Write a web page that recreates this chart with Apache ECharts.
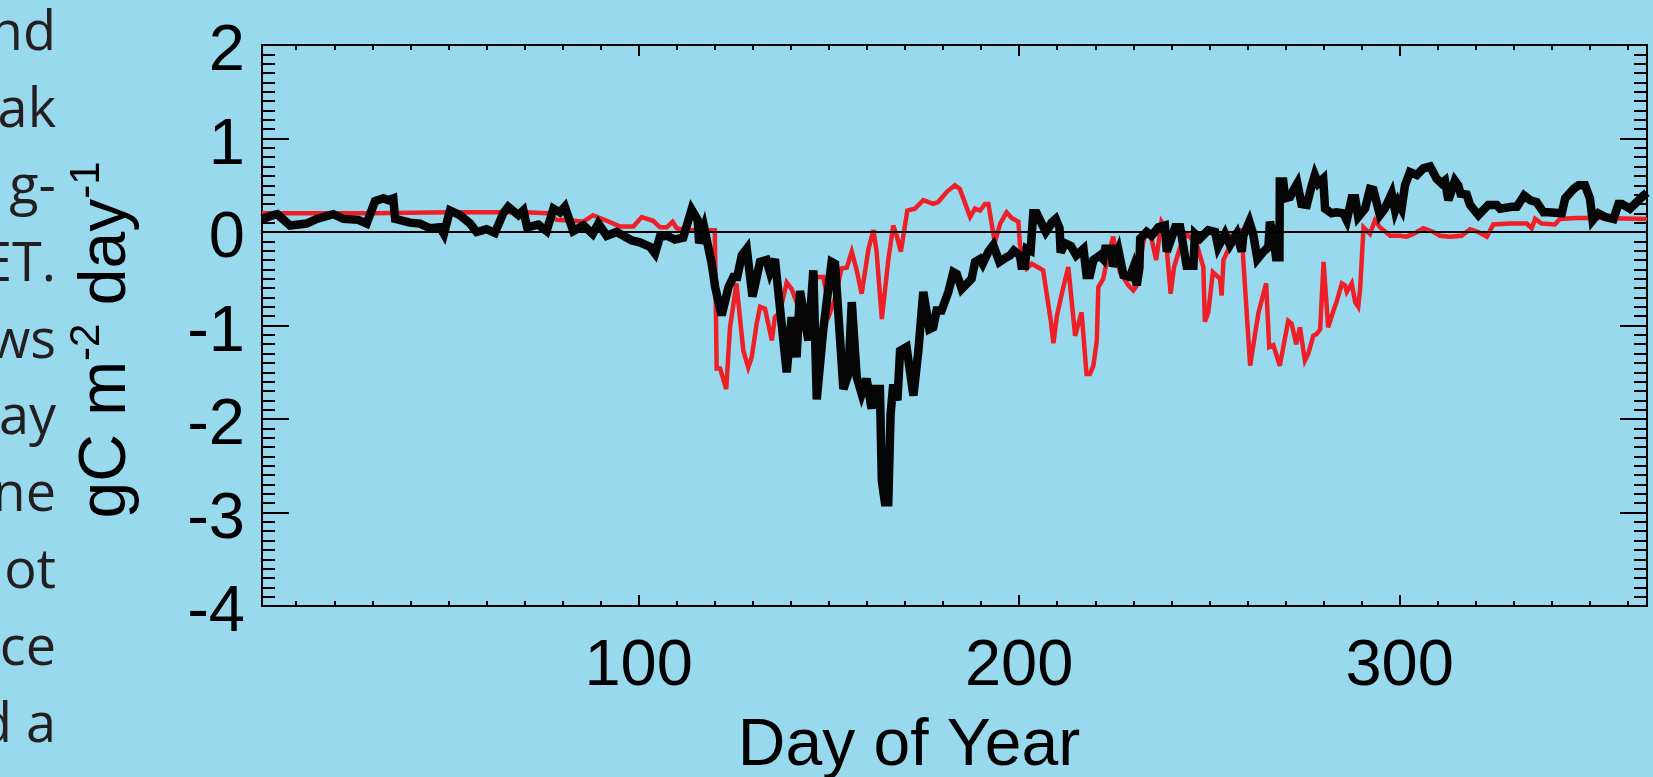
<!DOCTYPE html>
<html>
<head>
<meta charset="utf-8">
<script src="https://cdn.jsdelivr.net/npm/echarts@6/dist/echarts.min.js"></script>
<style>
html,body{margin:0;padding:0;background:#99d9ee;}
#chart{width:1653px;height:777px;}
</style>
</head>
<body>
<div id="chart"></div>
<script>
// ---- data ----
const blackDay = [1,4,5,8.4,12.7,15.4,19.7,22.4,26.3,28.5,30.7,32.9,34.2,35.5,36,39.9,42.5,45.2,47.8,48.8,50.4,53,55.7,57.4,60,62.2,64.4,65.7,68.4,69.7,70.7,73.6,75.8,77.6,79.3,80.6,82.8,85.5,87.9,89.4,91.6,94.2,98.2,100.3,103,104.3,105.6,107.4,109.5,111.7,113.9,115.5,115.9,117.2,119.2,120.1,121.8,123.6,124.9,125.9,127.1,128.4,129.9,131.9,133.6,134.5,135.8,138.9,140.2,141.5,142.4,144.6,145.9,146.8,148.5,150.7,151.6,153.8,155.1,156,157.3,158.6,159.9,161.2,161.7,163.4,163.9,164.7,165.6,166.2,166.9,168,168.7,170.4,172.2,173.5,174.8,176.4,177.4,178.3,179.6,181.4,182.7,183.6,184.9,187.5,188.4,189.7,190.4,191.9,193.2,194.8,196.7,197.6,198.6,200.2,200.6,201.5,202,203,203.7,204.6,207,207.7,208.5,209.6,210.6,210.9,212,213.6,215,216.9,217.7,218.6,219.5,221.2,222.1,222.6,224.3,224.6,226.1,227.4,229.1,230,230.9,231.6,231.8,233.5,234.8,236.6,238.3,238.8,241,242.3,244,245.8,246.2,247.5,249.7,251.5,252.3,254.1,255.4,257.2,258.5,258.9,260.5,261.5,262.6,264.2,265.5,265.9,266.8,267.5,268.4,268.5,269.4,269.9,271.2,272.1,273.1,274.2,275.6,276.9,277.7,278.6,279.9,280.4,282.1,283.4,285.2,286.1,287.4,288.3,289.1,290.9,292.2,293.1,294.8,296.1,297.9,298.8,299.6,300.5,301.4,302.7,304.5,306.2,308,309.7,311,311.9,312.8,314.5,315.4,316,317.6,318.5,320.7,323.3,325.5,326.4,329.5,330.8,332.7,334.3,336,337.8,339.1,342.6,343.5,345.7,347,348.7,350,350.7,352.2,354,356.2,357.5,358.4,360.5,362.3,364.1,365];
const blackVal = [0.14,0.18,0.19,0.07,0.09,0.14,0.19,0.14,0.13,0.09,0.33,0.36,0.34,0.36,0.14,0.10,0.09,0.04,0.05,-0.02,0.23,0.18,0.09,0.0,0.03,-0.01,0.2,0.27,0.18,0.23,0.05,0.08,0.01,0.25,0.21,0.27,0.01,0.07,-0.02,0.09,-0.04,0.0,-0.09,-0.11,-0.16,-0.23,-0.05,-0.04,-0.08,-0.06,0.24,0.13,-0.12,0.05,-0.34,-0.59,-0.89,-0.59,-0.48,-0.48,-0.25,-0.18,-0.69,-0.32,-0.30,-0.43,-0.29,-1.5,-0.91,-1.34,-0.63,-1.16,-0.41,-1.79,-1.05,-0.32,-0.34,-1.68,-1.52,-0.75,-1.55,-1.73,-1.57,-1.89,-1.68,-1.68,-2.66,-2.89,-2.89,-1.95,-1.63,-1.80,-1.27,-1.23,-1.75,-1.27,-0.64,-1.04,-1.02,-0.84,-0.84,-0.64,-0.43,-0.45,-0.61,-0.5,-0.32,-0.29,-0.34,-0.21,-0.14,-0.32,-0.27,-0.25,-0.20,-0.25,-0.36,-0.36,-0.18,-0.2,0.2,0.2,0,0.04,0.1,0.14,0.04,-0.22,-0.12,-0.15,-0.25,-0.18,-0.46,-0.46,-0.30,-0.25,-0.29,-0.18,-0.18,-0.37,-0.2,-0.46,-0.48,-0.38,-0.57,-0.38,-0.07,0,-0.04,0.05,0.07,-0.21,0.05,0.05,-0.36,-0.36,-0.02,-0.07,0.02,0,-0.16,-0.02,-0.14,-0.02,-0.21,-0.04,0.11,-0.02,-0.29,-0.21,-0.16,0.11,-0.04,-0.27,-0.27,0.54,0.54,0.36,0.375,0.45,0.52,0.30,0.29,0.5,0.61,0.52,0.57,0.25,0.2,0.21,0.20,0.125,0.36,0.36,0.16,0.25,0.46,0.45,0.18,0.25,0.41,0.23,0.32,0.25,0.5,0.64,0.61,0.68,0.70,0.57,0.52,0.55,0.34,0.55,0.5,0.41,0.40,0.29,0.18,0.29,0.29,0.25,0.27,0.27,0.39,0.34,0.32,0.21,0.21,0.2,0.36,0.46,0.5,0.5,0.36,0.125,0.2,0.16,0.14,0.30,0.30,0.25,0.32,0.39,0.42];
const redDay = [1,30,50,70,76,78.4,82.8,85.5,88,91.6,95,98.6,100.8,103.8,105.6,107.4,108.9,110,112.6,120,120.5,121.4,123,124,125.7,127.5,128.8,129.7,131,131.9,133.2,135,135.8,137.1,138.9,140.2,141.5,142.8,144.1,146.8,148.5,150.3,151.6,153.3,154.7,156,156.5,157.3,158.6,159.1,160.4,161.7,162.5,163.9,165.6,166.9,167.8,168.9,170.6,172.6,174.8,177.4,178.7,181,183.1,184.4,187.1,188.4,189.7,191,191.9,193.6,195,196.7,198,199.8,200.2,202,203.3,205.5,206.3,208.3,209,209.9,211.2,212.9,214.7,216.4,216.9,217.7,218.6,219.5,220.4,220.8,222.1,223,224.7,226.5,228.7,230,230.9,232.6,233.5,234.4,236,237.4,238.3,239.8,240.7,242.3,244,246.6,248.4,248.8,249.7,250.9,252.8,253.2,253.7,255,255.8,257.2,258.5,258.9,260.7,262,262.9,264.9,265.7,266.8,268.5,270.7,271.6,272.8,273.8,275.1,276,277.3,278.2,279.1,280,281.2,282.6,283.4,284.8,285.6,286.1,287.4,288.3,289.1,289.6,290.5,292.2,293.5,294.8,297.5,300.1,301.8,303.6,306.2,308.9,310.6,313.2,316.3,318.5,320.7,322.9,324.6,329,333.4,334.7,335.6,337.3,340.8,342.1,346.5,352.7,365];
const redVal = [0.2,0.2,0.21,0.21,0.2,0.13,0.12,0.11,0.18,0.12,0.06,0.06,0.16,0.12,0.05,0.05,0.11,0.04,0.02,0.02,-1.46,-1.46,-1.68,-1.02,-0.55,-1.27,-1.45,-1.34,-0.98,-0.8,-0.82,-1.16,-0.91,-0.86,-0.54,-0.61,-0.75,-1.05,-0.88,-0.48,-0.48,-0.86,-0.71,-0.39,-0.38,-0.21,-0.23,-0.41,-0.66,-0.66,-0.18,0.02,-0.2,-0.93,-0.3,0.07,-0.04,-0.21,0.23,0.25,0.34,0.3,0.32,0.43,0.5,0.46,0.16,0.25,0.23,0.30,0.30,-0.11,0.09,0.21,0.15,0.11,-0.14,-0.39,-0.34,-0.39,-0.41,-0.95,-1.19,-0.9,-0.66,-0.375,-1.11,-0.86,-0.86,-1.52,-1.52,-1.43,-1.16,-0.59,-0.5,-0.32,-0.05,-0.43,-0.57,-0.625,-0.57,-0.11,0.02,0,-0.3,0.11,0.05,-0.66,-0.375,-0.16,-0.02,-0.125,-0.375,-0.96,-0.86,-0.43,-0.5,-0.68,-0.30,-0.18,-0.04,0.02,0.02,-0.3,-1.43,-1.09,-0.86,-0.55,-1.23,-1.21,-1.43,-0.95,-0.98,-1.2,-1.02,-1.375,-1.3,-1.11,-1.09,-1.04,-0.32,-1.02,-0.84,-0.75,-0.55,-0.57,-0.64,-0.55,-0.75,-0.8,-0.61,0.05,-0.02,0.125,0.05,-0.04,-0.04,-0.05,-0.02,0.04,0,-0.04,-0.05,-0.04,0.03,0.0,-0.05,0.08,0.09,0.09,0.04,0.14,0.09,0.08,0.14,0.15,0.15,0.14];
const xLabelValues = [100, 200, 300];
const xMinorValues = [10,20,30,40,50,60,70,80,90,110,120,130,140,150,160,170,180,190,210,220,230,240,250,260,270,280,290,310,320,330,340,350,360];
const yMin = -4, yMax = 2, yStep = 1;
const xMin = 1, xMax = 365;
const sideText = ['nd','ak','g-','ET.','ws','ay','ne','ot','ce','d a'];

// ---- chart ----
const FONT = '"Liberation Sans", Arial, Helvetica, sans-serif';
const chart = echarts.init(document.getElementById('chart'), null, {renderer: 'canvas'});

const pair = (xs, ys) => xs.map((x, i) => [x, ys[i]]);

function xAx(pos, values, len, labels) {
  return {
    type: 'value', position: pos, min: xMin, max: xMax,
    axisLine: {show: true, onZero: false, lineStyle: {color: '#000', width: 2}},
    axisTick: {show: true, inside: true, length: len, customValues: values, lineStyle: {color: '#000', width: 2}},
    axisLabel: labels ? {show: true, customValues: values, fontSize: 65, color: '#000', fontFamily: FONT, margin: 29} : {show: false},
    splitLine: {show: false}, minorTick: {show: false}
  };
}
function yAx(pos, labels) {
  return {
    type: 'value', position: pos, min: yMin, max: yMax, interval: yStep,
    axisLine: {show: true, onZero: false, lineStyle: {color: '#000', width: 2}},
    axisTick: {show: true, inside: true, length: 27, lineStyle: {color: '#000', width: 2}},
    minorTick: {show: true, splitNumber: 10, length: 13, lineStyle: {color: '#000', width: 2}},
    axisLabel: labels ? {
      show: true, margin: 17,
      formatter: v => '{v|' + v + '}',
      rich: {v: {fontSize: 65, color: '#000', fontFamily: FONT, padding: [15, 0, 0, 0]}}
    } : {show: false},
    splitLine: {show: false}
  };
}

const graphics = sideText.map((t, i) => ({
  type: 'text', x: 56, y: 62 + 76.8 * i, silent: true,
  style: {text: t, fill: '#231f20', font: '54px "Open Sans", sans-serif', align: 'right', verticalAlign: 'bottom'}
}));
graphics.push({
  type: 'text', x: 103, y: 340, rotation: Math.PI / 2, silent: true,
  style: {
    text: '{a|gC m}{s|-2}{a| day}{s|-1}', align: 'center', verticalAlign: 'middle',
    rich: {
      a: {fontSize: 66, fontFamily: FONT, fill: '#000', lineHeight: 74, verticalAlign: 'bottom'},
      s: {fontSize: 42, fontFamily: FONT, fill: '#000', lineHeight: 42, verticalAlign: 'top'}
    }
  }
});
graphics.push({
  type: 'text', x: 909, y: 747, silent: true,
  style: {text: 'Day of Year', fill: '#000', font: '66px "Liberation Sans", Arial, sans-serif', align: 'center', verticalAlign: 'middle'}
});

chart.setOption({
  backgroundColor: '#99d9ee',
  animation: false,
  grid: {left: 262, right: 6, top: 45, bottom: 171},
  xAxis: [
    xAx('bottom', xLabelValues, 11, true),
    xAx('bottom', xMinorValues, 5, false),
    xAx('top', xLabelValues, 11, false),
    xAx('top', xMinorValues, 5, false)
  ],
  yAxis: [yAx('left', true), yAx('right', false)],
  graphic: graphics,
  series: [
    {
      type: 'line', xAxisIndex: 0, yAxisIndex: 0, data: pair(redDay, redVal),
      showSymbol: false, symbol: 'none',
      lineStyle: {color: '#ee1f26', width: 4.5, join: 'miter', miterLimit: 4},
      markLine: {silent: true, symbol: 'none', label: {show: false},
        lineStyle: {color: '#000', width: 2, type: 'solid'}, data: [{yAxis: 0}]}
    },
    {
      type: 'line', xAxisIndex: 0, yAxisIndex: 0, data: pair(blackDay, blackVal),
      showSymbol: false, symbol: 'none',
      lineStyle: {color: '#060606', width: 8.5, join: 'miter', miterLimit: 4}
    }
  ]
});
</script>
</body>
</html>
